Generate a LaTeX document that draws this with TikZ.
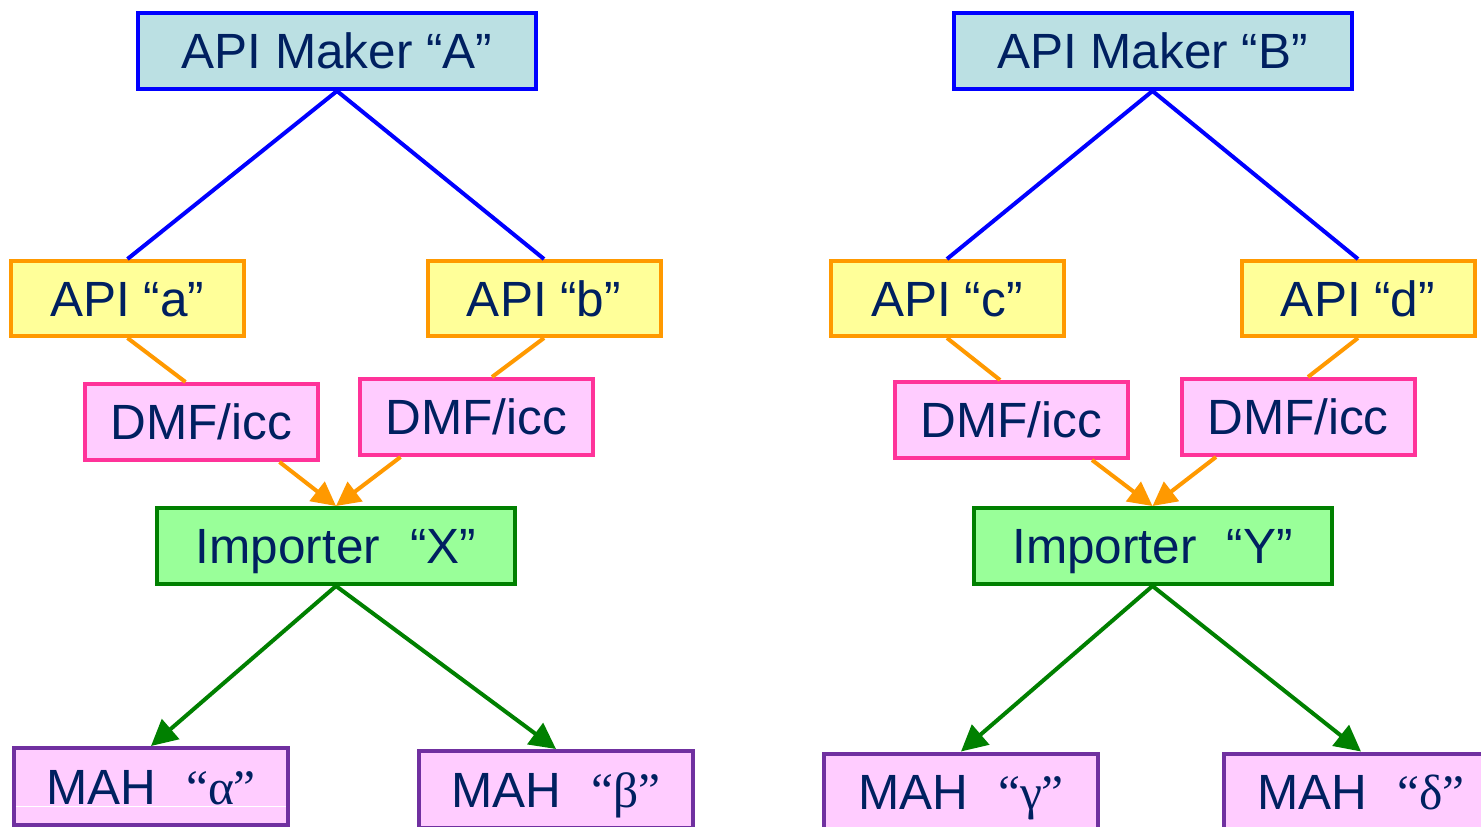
\documentclass[tikz,border=0pt]{standalone}
\usepackage{fontspec}
\setmainfont{Liberation Sans}
\newfontfamily\grk{Liberation Serif}
\usetikzlibrary{arrows.meta}
\definecolor{txt}{HTML}{002060}
\definecolor{makerfill}{HTML}{BBE0E3}
\definecolor{makerdraw}{HTML}{0000FF}
\definecolor{apifill}{HTML}{FFFF99}
\definecolor{apidraw}{HTML}{FF9900}
\definecolor{pinkfill}{HTML}{FFCCFF}
\definecolor{pinkdraw}{HTML}{FF3399}
\definecolor{impfill}{HTML}{99FF99}
\definecolor{impdraw}{HTML}{008000}
\definecolor{mahdraw}{HTML}{7030A0}
\begin{document}
\begin{tikzpicture}[x=1pt,y=-1pt,
  basebox/.style={draw, line width=4pt, inner sep=0pt, minimum height=76pt, text=txt,
                  text height=35pt, text depth=0pt,
                  font=\fontsize{49.5}{56}\selectfont},
  maker/.style={basebox, fill=makerfill, draw=makerdraw, minimum width=398pt},
  apibox/.style={basebox, fill=apifill, draw=apidraw, minimum width=233pt, minimum height=75pt},
  dmf/.style={basebox, fill=pinkfill, draw=pinkdraw, minimum width=233pt},
  imp/.style={basebox, fill=impfill, draw=impdraw, minimum width=358pt},
  mah/.style={basebox, fill=pinkfill, draw=mahdraw, minimum width=274pt, minimum height=77pt},
  blueline/.style={draw=makerdraw, line width=4pt},
  orangeline/.style={draw=apidraw, line width=4pt},
  orangearrow/.style={draw=apidraw, line width=4pt, -{Triangle[length=24pt,width=24pt]}},
  greenarrow/.style={draw=impdraw, line width=4pt, -{Triangle[length=26pt,width=26pt]}}
]
\clip (0,0) rectangle (1481,827);
\fill[white] (0,0) rectangle (1481,827);

% nodes
\node[maker] (mA) at (337,51) {API Maker “A”};
\node[maker] (mB) at (1152.5,51) {API Maker “B”};
\node[apibox] (a) at (127.5,298.5) {API “a”};
\node[apibox] (b) at (544,298.5) {API “b”};
\node[apibox] (c) at (947,298.5) {API “c”};
\node[apibox] (d) at (1358,298.5) {API “d”};
\node[dmf] (dA1) at (201.5,422) {DMF/icc};
\node[dmf] (dA2) at (476.5,417) {DMF/icc};
\node[dmf] (dB1) at (1011.5,420) {DMF/icc};
\node[dmf] (dB2) at (1298,417) {DMF/icc};
\node[imp] (iX) at (336,546) {Importer\hspace{30pt}“X”};
\node[imp] (iY) at (1152.5,546) {Importer\hspace{30pt}“Y”};
\node[mah] (ma) at (151,786.5) {MAH\hspace{30pt}{\grk “α”}};
\node[mah] (mb) at (556,789.5) {MAH\hspace{30pt}{\grk “β”}};
\node[mah] (mg) at (961,792) {MAH\hspace{30pt}{\grk “γ”}};
\node[mah] (md) at (1361,792) {MAH\hspace{30pt}{\grk “δ”}};

\draw[white, line width=1pt] ([xshift=4pt,yshift=-20pt]ma.west) -- ([xshift=-4pt,yshift=-20pt]ma.east);

% blue lines
\draw[blueline] (mA.south) -- (a.north);
\draw[blueline] (mA.south) -- (b.north);
\draw[blueline] (mB.south) -- (c.north);
\draw[blueline] (mB.south) -- (d.north);

% orange lines
\draw[orangeline] (a.south) -- ([xshift=-16pt]dA1.north);
\draw[orangeline] (b.south) -- ([xshift=15.5pt]dA2.north);
\draw[orangeline] (c.south) -- ([xshift=-11.5pt]dB1.north);
\draw[orangeline] (d.south) -- ([xshift=10pt]dB2.north);

% orange arrows
\draw[orangearrow] ([xshift=78pt]dA1.south) -- (iX.north);
\draw[orangearrow] ([xshift=-76pt]dA2.south) -- (iX.north);
\draw[orangearrow] ([xshift=80.5pt]dB1.south) -- (iY.north);
\draw[orangearrow] ([xshift=-82pt]dB2.south) -- (iY.north);

% green arrows
\draw[greenarrow] (iX.south) -- (ma.north);
\draw[greenarrow] (iX.south) -- (mb.north);
\draw[greenarrow] (iY.south) -- (mg.north);
\draw[greenarrow] (iY.south) -- (md.north);
\end{tikzpicture}
\end{document}
